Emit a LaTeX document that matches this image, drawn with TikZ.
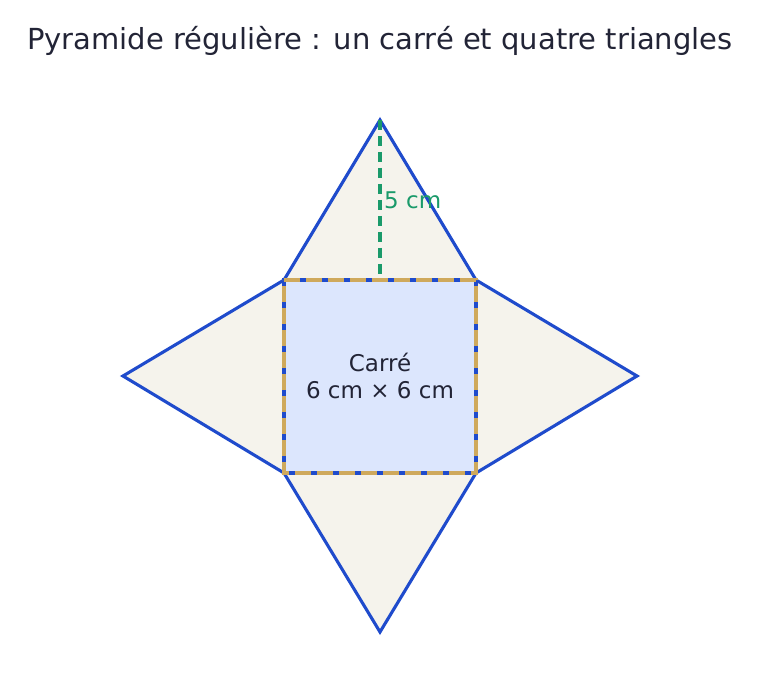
\documentclass[tikz,border=0pt]{standalone}
\usepackage{fontspec}
\setmainfont{DejaVu Sans}
\definecolor{ink}{HTML}{222436}
\definecolor{edge}{HTML}{1F4BCC}
\definecolor{tri}{HTML}{F5F3EC}
\definecolor{sq}{HTML}{DCE6FD}
\definecolor{gold}{HTML}{CFA95C}
\definecolor{grn}{HTML}{1A9A6A}
\tikzset{
  face/.style={fill=tri, draw=edge, line width=3.1pt, line join=miter},
  base/.style={fill=sq, draw=edge, line width=3.8pt},
  goldedge/.style={draw=gold, line width=3.8pt, dash pattern=on 16pt off 6pt},
  height/.style={draw=grn, line width=3.8pt, dash pattern=on 10pt off 6pt},
}
\begin{document}
\begin{tikzpicture}[x=1pt,y=-1pt]
\useasboundingbox (0,0) rectangle (760,692);
\coordinate (A) at (284,280);
\coordinate (B) at (476,280);
\coordinate (C) at (476,473);
\coordinate (D) at (284,473);
\coordinate (T) at (380,120);
\coordinate (L) at (123,376);
\coordinate (R) at (637,376);
\coordinate (Bo) at (380,632);
\coordinate (H) at (380,280);
\node[font=\fontsize{29}{34}\selectfont, text=ink] (title) at (380,41) {Pyramide régulière : un carré et quatre triangles};
\path[face] (A) -- (T) -- (B) -- cycle;
\path[face] (A) -- (L) -- (D) -- cycle;
\path[face] (B) -- (R) -- (C) -- cycle;
\path[face] (D) -- (Bo) -- (C) -- cycle;
\path[base] (A) rectangle (C);
\draw[goldedge] (A) -- (B) -- (C) -- (D) -- cycle;
\draw[height] (T) -- (H);
\node[font=\fontsize{23}{27}\selectfont, text=grn, anchor=west, inner sep=0pt] (h) at (384,200) {5 cm};
\node[font=\fontsize{23}{27}\selectfont, text=ink, align=center] (lab) at (380,376) {Carré\\6 cm × 6 cm};
\end{tikzpicture}
\end{document}
